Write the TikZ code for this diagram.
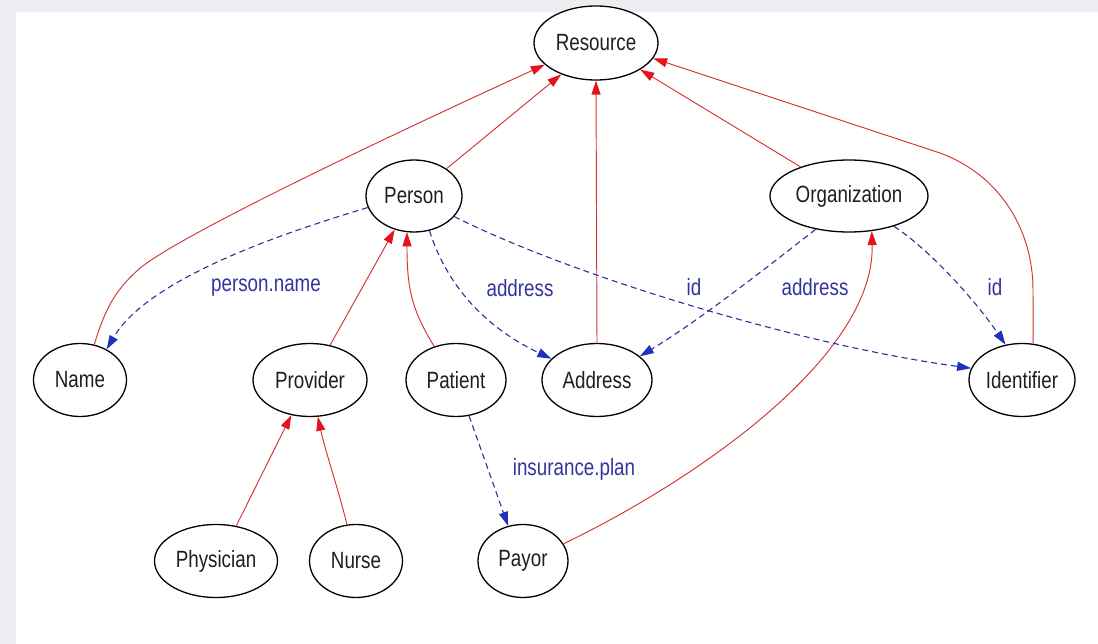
\documentclass[tikz,border=0pt]{standalone}
\usepackage{fontspec}
\setmainfont{Liberation Sans}[FakeStretch=0.8]
\usetikzlibrary{arrows.meta,shapes.geometric}

\definecolor{isared}{RGB}{214,52,52}
\definecolor{tipred}{RGB}{228,20,28}
\definecolor{refblue}{RGB}{45,50,150}
\definecolor{tipblue}{RGB}{30,50,190}
\definecolor{lblblue}{RGB}{52,52,160}
\definecolor{framegray}{RGB}{236,238,242}

\tikzset{
  cls/.style={draw=black, line width=1.3pt, ellipse, inner sep=0pt, fill=white,
    minimum height=73pt, font=\fontsize{23.5}{25}\selectfont, text=black!88},
  isa/.style={draw=isared, line width=0.95pt,
    -{Triangle[length=14pt,width=9pt,color=tipred]}},
  attr/.style={draw=refblue, line width=1.1pt, dash pattern=on 6pt off 4pt,
    -{Triangle[length=14pt,width=9pt,color=tipblue]}},
  lbl/.style={text=lblblue, font=\fontsize{23.5}{25}\selectfont, inner sep=0pt},
}

\begin{document}
\begin{tikzpicture}[x=1pt,y=-1pt]
  \useasboundingbox (0,0) rectangle (1098,644);
  \fill[framegray] (0,0) rectangle (1098,644);
  \fill[white] (16,12) rectangle (1098,644);

  % classes
  \node[cls, minimum width=124pt, minimum height=74pt] (resource) at (596,43) {Resource};
  \node[cls, minimum width=96pt, minimum height=72pt] (person) at (414,196) {Person};
  \node[cls, minimum width=158pt, minimum height=72pt] (organization) at (849,196) {Organization};
  \node[cls, minimum width=93pt] (name) at (80,380) {Name};
  \node[cls, minimum width=114pt] (provider) at (310,380) {Provider};
  \node[cls, minimum width=100pt] (patient) at (456,380) {Patient};
  \node[cls, minimum width=110pt] (address) at (597,380) {Address};
  \node[cls, minimum width=106pt] (identifier) at (1022,380) {Identifier};
  \node[cls, minimum width=123pt] (physician) at (216,561) {Physician};
  \node[cls, minimum width=93pt] (nurse) at (356,561) {Nurse};
  \node[cls, minimum width=90pt] (payor) at (523,561) {Payor};

  % inheritance (red)
  \draw[isa] (name.68) .. controls (106,305) and (118,288) .. (138,270)
             .. controls (170,240) and (380,140) .. (resource.-157);
  \draw[isa] (person.40) -- (resource.222);
  \draw[isa] (address.north) -- (resource.south);
  \draw[isa] (organization.149) -- (resource.-31);
  \draw[isa] (identifier.73) -- (1033,290) .. controls (1033,230) and (1000,175) .. (940,153)
             -- (resource.-15);
  \draw[isa] (provider.60) -- (person.240);
  \draw[isa] (patient.123) .. controls (412,310) and (407,290) .. (person.259);
  \draw[isa] (physician.60) -- (provider.242);
  \draw[isa] (nurse.104) .. controls (340,495) and (325,450) .. (provider.282);
  \draw[isa] (payor.23) .. controls (700,478) and (875,355) .. (organization.-57);

  % attributes (blue, dashed)
  \draw[attr] (person.194) .. controls (300,228) and (150,275) .. (name.49);
  \draw[attr] (person.-66) .. controls (445,280) and (480,325) .. (address.155);
  \draw[attr] (person.-27) .. controls (570,275) and (800,345) .. (identifier.167);
  \draw[attr] (organization.-135) .. controls (770,265) and (700,320) .. (address.29);
  \draw[attr] (organization.-34) .. controls (930,250) and (975,300) .. (identifier.115);
  \draw[attr] (patient.-70) -- (payor.113);

  % attribute labels
  \node[lbl] (l-pname) at (266,288) {person.name};
  \node[lbl] (l-paddr) at (520,288) {address};
  \node[lbl] (l-pid) at (694,287) {id};
  \node[lbl] (l-oaddr) at (815,287) {address};
  \node[lbl] (l-oid) at (995,287) {id};
  \node[lbl] (l-ins) at (574,469) {insurance.plan};
\end{tikzpicture}
\end{document}
